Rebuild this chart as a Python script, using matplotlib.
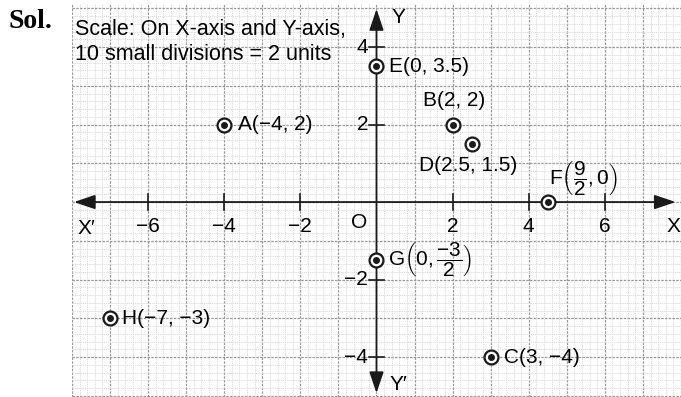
import numpy as np
import matplotlib
matplotlib.use("Agg")
import matplotlib.pyplot as plt

plt.rcParams['font.family'] = ['Liberation Sans', 'DejaVu Sans']
plt.rcParams['mathtext.fontset'] = 'custom'
plt.rcParams['mathtext.rm'] = 'Liberation Sans'
plt.rcParams['mathtext.it'] = 'Liberation Sans:italic'
plt.rcParams['mathtext.bf'] = 'Liberation Sans:bold'

# plotted points
names = ['A', 'B', 'C', 'D', 'E', 'F', 'G', 'H']
xs = [-4, 2, 3, 2.5, 0, 4.5, 0, -7]
ys = [2, 2, -4, 1.5, 3.5, 0, -1.5, -3]
labels = ['A(−4, 2)', 'B(2, 2)', 'C(3, −4)', 'D(2.5, 1.5)', 'E(0, 3.5)',
          r'F$\left(\dfrac{9}{2}, 0\right)$', r'G$\left(0, \dfrac{-3}{2}\right)$', 'H(−7, −3)']
# label offset (data units) and alignment for each point
offsets = [(0.37, 0, 'left'), (0.03, 0.63, 'center'), (0.34, 0, 'left'), (-0.08, -0.55, 'center'),
           (0.34, 0, 'left'), (0.92, 0.6, 'center'), (0.3, 0, 'left'), (0.32, 0, 'left')]

xticks = [-6, -4, -2, 2, 4, 6]
yticks = [-4, -2, 2, 4]

fs = 15

dpi = 100
fig = plt.figure(figsize=(6.81, 3.97), dpi=dpi)
ax = fig.add_axes([72 / 681, 0, 1 - 72 / 681, 1 - 4 / 397])
ax.set_xlim(-8, 7.93)
ax.set_ylim(-5.03, 5.11)
for s in ax.spines.values():
    s.set_visible(False)

# graph paper: 1 unit big squares, 0.2 unit small squares
ax.set_xticks(np.arange(-8, 8.01, 1))
ax.set_yticks(np.arange(-5, 5.01, 1))
ax.set_xticks(np.arange(-8, 8.01, 0.2), minor=True)
ax.set_yticks(np.arange(-5, 5.2, 0.2), minor=True)
ax.tick_params(which='both', length=0, labelbottom=False, labelleft=False)
ax.grid(which='minor', color='#d8d8d8', lw=0.6, ls=(0, (1.5, 1)))
ax.grid(which='major', color='#9a9a9a', lw=0.9, ls=(0, (2, 1)))
ax.set_axisbelow(True)

# axes with arrow heads
arr = dict(arrowstyle='<|-|>,head_length=0.65,head_width=0.22', color='#1a1a1a', lw=1.3,
           shrinkA=0, shrinkB=0, mutation_scale=20)
ax.annotate('', xy=(7.86, 0), xytext=(-7.95, 0), arrowprops=arr)
ax.annotate('', xy=(0, 4.98), xytext=(0, -4.93), arrowprops=arr)

for t in xticks:
    ax.plot([t, t], [-0.2, 0.2], color='#1a1a1a', lw=1.2)
    ax.text(t, -0.62, str(t).replace('-', '−'), ha='center', va='center', fontsize=fs)
for t in yticks:
    ax.plot([-0.2, 0.2], [t, t], color='#1a1a1a', lw=1.2)
    ax.text(-0.22, t, str(t).replace('-', '−'), ha='right', va='center', fontsize=fs)

ax.text(-0.46, -0.52, 'O', ha='center', va='center', fontsize=fs)
ax.text(-7.62, -0.67, 'X′', ha='center', va='center', fontsize=fs)
ax.text(7.8, -0.64, 'X', ha='center', va='center', fontsize=fs)
ax.text(0.58, 4.75, 'Y', ha='center', va='center', fontsize=fs)
ax.text(0.58, -4.72, 'Y′', ha='center', va='center', fontsize=fs)

# points drawn as circled dots
ax.plot(xs, ys, 'o', ms=10, mfc='white', mec='#1a1a1a', mew=1.6, ls='none', zorder=5)
ax.plot(xs, ys, 'o', ms=4, color='#1a1a1a', ls='none', zorder=6)
for x, y, lab, (dx, dy, ha) in zip(xs, ys, labels, offsets):
    ax.text(x + dx, y + dy, lab, ha=ha, va='center', fontsize=fs, zorder=7)

ax.text(-7.91, 4.44, 'Scale: On X-axis and Y-axis,', ha='left', va='center', fontsize=15.5)
ax.text(-7.91, 3.80, '10 small divisions = 2 units', ha='left', va='center', fontsize=15.5)

fig.text(8 / 681, 1 - 22 / 397, 'Sol.', family='Liberation Serif', weight='bold',
         fontsize=20, ha='left', va='center')

fig.savefig('out.png', dpi=dpi)
